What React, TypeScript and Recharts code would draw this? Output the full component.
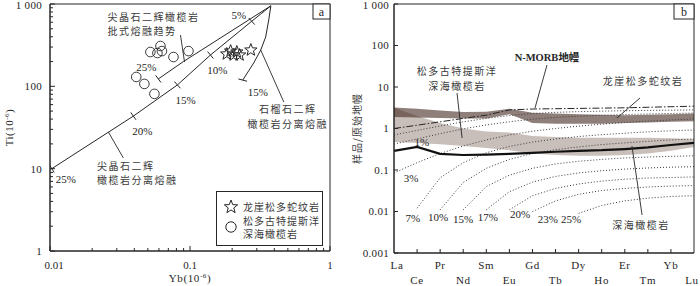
import React from 'react';
import {
  ComposedChart, ScatterChart, Scatter, Line, Area, XAxis, YAxis,
  ReferenceLine, ReferenceDot, ReferenceArea, Legend,
} from 'recharts';

const SERIF = '"Liberation Serif", "DejaVu Serif", serif';
const CJK = '"Noto Sans CJK SC", "Noto Sans CJK JP", sans-serif';
const INK = '#262626';
const CJK_INK = '#3a3a3a';

// ---------------- Panel a : Yb vs Ti ----------------
const spinelFractional = [
  { yb: 0.0103, ti: 10 }, { yb: 0.0394, ti: 43.5 }, { yb: 0.0813, ti: 104 },
  { yb: 0.14, ti: 240 }, { yb: 0.276, ti: 617 }, { yb: 0.378, ti: 950 },
];
const spinelBatch = [
  { yb: 0.0594, ti: 123 }, { yb: 0.0897, ti: 200 }, { yb: 0.378, ti: 950 },
];
const garnetFractional = [
  { yb: 0.378, ti: 950 }, { yb: 0.365, ti: 639 }, { yb: 0.347, ti: 397 },
  { yb: 0.32, ti: 276 }, { yb: 0.285, ti: 192 }, { yb: 0.238, ti: 119 },
];
const curveTicks = [
  { yb: 0.276, ti: 617, angle: 48 }, { yb: 0.14, ti: 240, angle: 50 },
  { yb: 0.0813, ti: 104, angle: 48 }, { yb: 0.0394, ti: 43.5, angle: 55 },
  { yb: 0.0103, ti: 10, angle: 57 }, { yb: 0.0594, ti: 123, angle: 53 },
  { yb: 0.238, ti: 119, angle: 15 },
];
const serpentinite = [
  { yb: 0.183, ti: 247 }, { yb: 0.195, ti: 268 }, { yb: 0.205, ti: 240 },
  { yb: 0.216, ti: 261 }, { yb: 0.226, ti: 240 }, { yb: 0.272, ti: 276 },
];
const tethysPeridotite = [
  { yb: 0.0521, ti: 261 }, { yb: 0.0585, ti: 254 }, { yb: 0.0615, ti: 309 },
  { yb: 0.063, ti: 268 }, { yb: 0.0762, ti: 227 }, { yb: 0.0975, ti: 268 },
  { yb: 0.0413, ti: 130 }, { yb: 0.0472, ti: 107 }, { yb: 0.0557, ti: 81 },
];
const xTicksA = [0.01, 0.02, 0.03, 0.04, 0.05, 0.06, 0.07, 0.08, 0.09, 0.1, 0.2, 0.3, 0.4, 0.5, 0.6, 0.7, 0.8, 0.9, 1];
const yTicksA = [1, 2, 3, 4, 5, 6, 7, 8, 9, 10, 20, 30, 40, 50, 60, 70, 80, 90, 100, 200, 300, 400, 500, 600, 700, 800, 900, 1000];
const xLabelsA: Record<string, string> = { '0.01': '0.01', '0.1': '0.1', '1': '1' };
const yLabelsA: Record<string, string> = { '1': '1', '10': '10', '100': '100', '1000': '1 000' };

// ---------------- Panel b : REE pattern ----------------
const ree = ['La', 'Ce', 'Pr', 'Nd', 'Sm', 'Eu', 'Gd', 'Tb', 'Dy', 'Ho', 'Er', 'Tm', 'Yb', 'Lu'];
const nmorbMantle = [1.0, 1.2, 1.45, 1.75, 2.1, 2.8, 2.95, 3.0, 3.05, 3.1, 3.15, 3.25, 3.35, 3.45];
const serpLow = [1.9, 1.85, 1.8, 1.75, 1.75, 2.2, 1.35, 1.3, 1.3, 1.3, 1.35, 1.4, 1.45, 1.5];
const serpHigh = [3.2, 3.0, 2.7, 2.5, 2.55, 3.0, 2.4, 2.3, 2.2, 2.15, 2.1, 2.15, 2.2, 2.3];
const abyssLow = [0.47, 0.45, 0.42, 0.38, 0.34, 0.3, 0.25, 0.23, 0.22, 0.22, 0.23, 0.25, 0.29, 0.36];
const abyssHigh = [3.2, 2.0, 1.35, 1.0, 0.85, 0.8, 0.66, 0.62, 0.6, 0.6, 0.6, 0.6, 0.58, 0.56];
const abyssalAvg = [0.29, 0.36, 0.245, 0.23, 0.235, 0.245, 0.26, 0.275, 0.29, 0.3, 0.32, 0.35, 0.4, 0.45];
const melt0 = [0.7, 0.9, 1.15, 1.45, 1.75, 2.05, 2.3, 2.45, 2.55, 2.62, 2.68, 2.73, 2.77, 2.8];
const melt1 = [0.42, 0.56, 0.75, 0.98, 1.22, 1.45, 1.68, 1.85, 1.98, 2.08, 2.17, 2.24, 2.3, 2.35];
const melt3 = [0.085, 0.15, 0.25, 0.38, 0.53, 0.7, 0.86, 1.0, 1.14, 1.27, 1.39, 1.5, 1.6, 1.7];
const melt7 = [null, 0.012, 0.065, 0.15, 0.26, 0.37, 0.47, 0.56, 0.64, 0.71, 0.77, 0.83, 0.88, 0.92];
const melt10 = [null, null, 0.011, 0.05, 0.11, 0.18, 0.25, 0.31, 0.36, 0.41, 0.45, 0.49, 0.53, 0.56];
const melt15 = [null, null, null, 0.011, 0.04, 0.075, 0.11, 0.14, 0.162, 0.18, 0.195, 0.205, 0.213, 0.22];
const melt17 = [null, null, null, null, 0.011, 0.03, 0.051, 0.07, 0.085, 0.096, 0.105, 0.112, 0.117, 0.12];
const melt20 = [null, null, null, null, null, 0.011, 0.024, 0.036, 0.046, 0.054, 0.06, 0.064, 0.066, 0.068];
const melt23 = [null, null, null, null, null, null, 0.01, 0.018, 0.026, 0.032, 0.036, 0.039, 0.041, 0.042];
const melt25 = [null, null, null, null, null, null, null, null, 0.009, 0.014, 0.018, 0.021, 0.023, 0.024];
const yTicksB = [0.001, 0.01, 0.1, 1, 10, 100, 1000];
const yLabelsB: Record<string, string> = { '0.001': '0.001', '0.01': '0.01', '0.1': '0.1', '1': '1', '10': '10', '100': '100', '1000': '1 000' };

const meltKeys = ['m0', 'm1', 'm3', 'm7', 'm10', 'm15', 'm17', 'm20', 'm23', 'm25'];
const meltSeries = [melt0, melt1, melt3, melt7, melt10, melt15, melt17, melt20, melt23, melt25];

const reeData = ree.map((el, i) => {
  const row: any = {
    el, i,
    nmorb: nmorbMantle[i],
    serp: [serpLow[i], serpHigh[i]],
    abyss: [abyssLow[i], abyssHigh[i]],
    avg: abyssalAvg[i],
  };
  meltKeys.forEach((k, j) => { row[k] = meltSeries[j][i]; });
  return row;
});

// ---------------- annotations ----------------
type Note = { x: number; y: number; text: string; anchor?: string; cjk?: boolean; bold?: boolean };
const notesA: Note[] = [
  { x: 0.0257, y: 690, text: '尖晶石二辉橄榄岩', anchor: 'start', cjk: true },
  { x: 0.0257, y: 460, text: '批式熔融趋势', anchor: 'start', cjk: true },
  { x: 0.0488, y: 171, text: '25%' },
  { x: 0.223, y: 735, text: '5%' },
  { x: 0.157, y: 158, text: '10%' },
  { x: 0.0929, y: 68, text: '15%' },
  { x: 0.0457, y: 28.6, text: '20%' },
  { x: 0.013, y: 7.48, text: '25%' },
  { x: 0.0217, y: 10.6, text: '尖晶石二辉', anchor: 'start', cjk: true },
  { x: 0.0217, y: 7.1, text: '橄榄岩分离熔融', anchor: 'start', cjk: true },
  { x: 0.305, y: 85, text: '15%' },
  { x: 0.5, y: 53, text: '石榴石二辉', cjk: true },
  { x: 0.5, y: 34, text: '橄榄岩分离熔融', cjk: true },
];
const leadersA = [
  [{ x: 0.0855, y: 420 }, { x: 0.0914, y: 197 }],
  [{ x: 0.0261, y: 27.9 }, { x: 0.0334, y: 13.5 }],
  [{ x: 0.32, y: 276 }, { x: 0.468, y: 64.4 }],
];
const notesB: Note[] = [
  { x: 2.73, y: 23.5, text: '松多古特提斯洋', cjk: true },
  { x: 2.73, y: 10.4, text: '深海橄榄岩', cjk: true },
  { x: 10.79, y: 13.2, text: '龙崖松多蛇纹岩', cjk: true },
  { x: 10.7, y: 0.00448, text: '深海橄榄岩', cjk: true },
  { x: 1.21, y: 0.473, text: '1%' },
  { x: 0.74, y: 0.064, text: '3%' },
  { x: 0.82, y: 0.00697, text: '7%' },
  { x: 1.91, y: 0.00736, text: '10%' },
  { x: 2.99, y: 0.0066, text: '15%' },
  { x: 4.07, y: 0.0074, text: '17%' },
  { x: 5.46, y: 0.0087, text: '20%' },
  { x: 6.67, y: 0.0066, text: '23%' },
  { x: 7.67, y: 0.0066, text: '25%' },
];
const leadersB = [
  [{ x: 6.63, y: 33.9 }, { x: 6.11, y: 3.12 }],
  [{ x: 2.73, y: 7.17 }, { x: 2.95, y: 0.59 }],
  [{ x: 10.66, y: 5.43 }, { x: 9.66, y: 1.79 }],
  [{ x: 10.31, y: 0.379 }, { x: 10.75, y: 0.00824 }],
];

// ---------------- shapes ----------------
const starPath = (cx: number, cy: number, R: number) => {
  const r = R * 0.42;
  let d = '';
  for (let k = 0; k < 10; k++) {
    const rad = k % 2 === 0 ? R : r;
    const a = -Math.PI / 2 + (k * Math.PI) / 5;
    d += (k ? 'L' : 'M') + (cx + rad * Math.cos(a)).toFixed(2) + ',' + (cy + rad * Math.sin(a)).toFixed(2);
  }
  return d + 'Z';
};
const NoShape = () => <g />;
const StarShape = (p: any) => <path d={starPath(p.cx, p.cy, 6.5)} fill="none" stroke={INK} strokeWidth={1} />;
const CircleShape = (p: any) => <circle cx={p.cx} cy={p.cy} r={4.8} fill="none" stroke={INK} strokeWidth={0.9} />;
const TickShape = (p: any) => {
  const a = (p.payload.angle * Math.PI) / 180;
  const dx = Math.cos(a) * 4.5, dy = Math.sin(a) * 4.5;
  return <line x1={p.cx - dx} y1={p.cy - dy} x2={p.cx + dx} y2={p.cy + dy} stroke={INK} strokeWidth={1} />;
};
const textShape = (t: Note) => (p: any) => (
  <text x={p.cx} y={p.cy} dy="0.35em" textAnchor={(t.anchor as any) || 'middle'}
    fontFamily={t.cjk ? CJK : SERIF} fontSize={t.cjk ? 10 : 11} letterSpacing={t.cjk ? 1.5 : 0}
    fill={t.cjk ? CJK_INK : INK} fontWeight={t.bold ? 700 : 400}>{t.text}</text>
);

const TickXA = (p: any) => {
  const v = p.payload.value;
  const lab = xLabelsA[String(v)];
  return (
    <g>
      <line x1={p.x} y1={p.y} x2={p.x} y2={p.y - (lab ? 5 : 3)} stroke={INK} />
      {lab && <text x={p.x + (v === 0.01 ? 4 : 0)} y={p.y + 18} textAnchor="middle" fontFamily={SERIF} fontSize={11} fill={INK}>{lab}</text>}
    </g>
  );
};
const TickYA = (p: any) => {
  const v = p.payload.value;
  const lab = yLabelsA[String(v)];
  return (
    <g>
      <line x1={p.x} y1={p.y} x2={p.x + (lab ? 5 : 3)} y2={p.y} stroke={INK} />
      {lab && <text x={p.x - 8} y={p.y + (v === 1000 ? 1.5 : 0)} dy="0.35em" textAnchor="end" fontFamily={SERIF} fontSize={11} fill={INK} letterSpacing={0.3}>{lab}</text>}
    </g>
  );
};
const TickXB = (p: any) => {
  const idx = ree.indexOf(p.payload.value);
  return (
    <g>
      {idx > 0 && idx < ree.length - 1 && <line x1={p.x} y1={p.y} x2={p.x} y2={p.y - 4} stroke={INK} />}
      <text x={p.x + (idx === 0 ? 3 : idx === ree.length - 1 ? -2 : 0)} y={p.y + (idx % 2 === 0 ? 16 : 31)} textAnchor="middle"
        fontFamily={SERIF} fontSize={11} letterSpacing={0.6} fill={INK}>{p.payload.value}</text>
    </g>
  );
};
const TickYB = (p: any) => {
  const v = p.payload.value;
  const lab = yLabelsB[String(v)];
  return (
    <g>
      <line x1={p.x} y1={p.y} x2={p.x + 4} y2={p.y} stroke={INK} />
      <text x={p.x - 5} y={p.y + (v === 1000 ? 1.5 : 0)} dy="0.35em" textAnchor="end" fontFamily={SERIF} fontSize={11} fill={INK} letterSpacing={0.3}>{lab}</text>
    </g>
  );
};

const LegendA = () => (
  <svg width={107} height={55} style={{ display: 'block' }}>
    <rect x={0.5} y={0.5} width={106} height={54} fill="#fff" stroke={INK} />
    <path d={starPath(15, 16, 7)} fill="none" stroke={INK} />
    <text x={27} y={16} dy="0.35em" fontFamily={CJK} fontSize={10} letterSpacing={1} fill={CJK_INK}>龙崖松多蛇纹岩</text>
    <circle cx={15} cy={36} r={5.2} fill="none" stroke={INK} />
    <text x={27} y={30} dy="0.35em" fontFamily={CJK} fontSize={10} letterSpacing={1} fill={CJK_INK}>松多古特提斯洋</text>
    <text x={27} y={43.5} dy="0.35em" fontFamily={CJK} fontSize={10} letterSpacing={1} fill={CJK_INK}>深海橄榄岩</text>
  </svg>
);

function PanelA() {
  return (
    <ScatterChart width={345} height={286} margin={{ top: 4, right: 15, bottom: 0, left: 0 }}>
      <XAxis type="number" dataKey="yb" scale="log" domain={[0.01, 1]} ticks={xTicksA} interval={0}
        tick={TickXA} tickLine={false} tickSize={0} tickMargin={0} height={35} allowDataOverflow
        axisLine={{ stroke: INK }}
        label={(lp: any) => {
          const vb = lp.viewBox || { x: 50, y: 251, width: 280 };
          return (
            <text x={vb.x + vb.width / 2} y={282} textAnchor="middle" fontFamily={SERIF} fontSize={11} fill={INK} letterSpacing={0.6}>
              Yb(10<tspan dy={-4} fontSize={7}>-6</tspan><tspan dy={4}>)</tspan>
            </text>
          );
        }} />
      <YAxis type="number" dataKey="ti" scale="log" domain={[1, 1000]} ticks={yTicksA} interval={0}
        tick={TickYA} tickLine={false} tickSize={0} tickMargin={0} width={50} allowDataOverflow
        axisLine={{ stroke: INK }}
        label={(lp: any) => {
          const vb = lp.viewBox || { x: 0, y: 4, height: 247 };
          const cy = vb.y + vb.height / 2;
          return (
            <text x={9} y={cy} transform={`rotate(-90 9 ${cy})`} textAnchor="middle" dy="0.35em" fontFamily={SERIF} fontSize={11} fill={INK} letterSpacing={0.5}>
              Ti(10<tspan dy={-4} fontSize={7}>-6</tspan><tspan dy={4}>)</tspan>
            </text>
          );
        }} />
      <ReferenceArea x1={0.01} x2={1} y1={1} y2={1000} fill="none" stroke={INK} strokeWidth={1} ifOverflow="visible" />
      <Scatter data={spinelFractional} line={{ stroke: INK, strokeWidth: 1 }} shape={NoShape} isAnimationActive={false} />
      <Scatter data={spinelBatch} line={{ stroke: INK, strokeWidth: 1 }} shape={NoShape} isAnimationActive={false} />
      <Scatter data={garnetFractional} line={{ stroke: INK, strokeWidth: 1 }} shape={NoShape} isAnimationActive={false} />
      <Scatter data={curveTicks} shape={TickShape} isAnimationActive={false} />
      <Scatter data={tethysPeridotite} shape={CircleShape} isAnimationActive={false} />
      <Scatter data={serpentinite} shape={StarShape} isAnimationActive={false} />
      {leadersA.map((s, k) => (
        <ReferenceLine key={'la' + k} segment={s} stroke={INK} strokeWidth={0.9} ifOverflow="visible" />
      ))}
      {notesA.map((t, k) => (
        <ReferenceDot key={'na' + k} x={t.x} y={t.y} r={0} ifOverflow="visible" shape={textShape(t)} />
      ))}
      <ReferenceDot x={1} y={1000} r={0} ifOverflow="visible" shape={(p: any) => (
        <g>
          <rect x={p.cx - 17} y={p.cy} width={17} height={15} fill="#fff" stroke={INK} />
          <text x={p.cx - 8.5} y={p.cy + 11.5} textAnchor="middle" fontFamily={SERIF} fontSize={12} fill={INK}>a</text>
        </g>
      )} />
      <Legend content={LegendA} layout="horizontal" verticalAlign="middle" align="center"
        wrapperStyle={{ left: 216, top: 191, width: 107, height: 55 }} />
    </ScatterChart>
  );
}

function PanelB() {
  const dotted = { stroke: '#3a3a3a', strokeWidth: 1, strokeDasharray: '1 2' };
  return (
    <ComposedChart width={350} height={286} data={reeData} margin={{ top: 4, right: 6, bottom: 0, left: 0 }}>
      <XAxis dataKey="el" type="category" scale="point" padding={{ left: 0, right: 0 }} interval={0}
        tick={TickXB} tickLine={false} tickSize={0} tickMargin={0} height={33} axisLine={{ stroke: INK }} />
      <XAxis xAxisId="n" dataKey="i" type="number" domain={[0, 13]} hide allowDataOverflow />
      <YAxis type="number" scale="log" domain={[0.001, 1000]} ticks={yTicksB} interval={0}
        tick={TickYB} tickLine={false} tickSize={0} tickMargin={0} width={44} allowDataOverflow
        axisLine={{ stroke: INK }}
        label={(lp: any) => {
          const vb = lp.viewBox || { x: 0, y: 4, height: 249 };
          const cy = vb.y + vb.height / 2;
          return (
            <text x={7} y={cy} transform={`rotate(-90 7 ${cy})`} textAnchor="middle" dy="0.35em" fontFamily={CJK} fontSize={10} letterSpacing={1} fill={CJK_INK}>
              样品/原始地幔
            </text>
          );
        }} />
      <Area dataKey="abyss" stroke="none" fill="#c9bfba" fillOpacity={1} dot={false} activeDot={false} isAnimationActive={false} />
      <Area dataKey="serp" stroke="none" fill="rgb(62,35,25)" fillOpacity={0.58} dot={false} activeDot={false} isAnimationActive={false} />
      {meltKeys.map((k) => (
        <Line key={k} dataKey={k} {...dotted} dot={false} activeDot={false} connectNulls={false} isAnimationActive={false} />
      ))}
      <Line dataKey="nmorb" stroke={INK} strokeWidth={1} strokeDasharray="7 2 1.5 2" dot={false} activeDot={false} isAnimationActive={false} />
      <Line dataKey="avg" stroke="#111" strokeWidth={2.2} dot={false} activeDot={false} isAnimationActive={false} />
      <ReferenceArea xAxisId="n" x1={0} x2={13} y1={0.001} y2={1000} fill="none" stroke={INK} strokeWidth={1} ifOverflow="visible" />
      {leadersB.map((s, k) => (
        <ReferenceLine key={'lb' + k} xAxisId="n" segment={s} stroke={INK} strokeWidth={0.9} ifOverflow="visible" />
      ))}
      {notesB.map((t, k) => (
        <ReferenceDot key={'nb' + k} xAxisId="n" x={t.x} y={t.y} r={0} ifOverflow="visible" shape={textShape(t)} />
      ))}
      <ReferenceDot xAxisId="n" x={6.63} y={52.8} r={0} ifOverflow="visible" shape={(p: any) => (
        <text x={p.cx} y={p.cy} dy="0.35em" textAnchor="middle" fill={INK} fontWeight={700} fontSize={10.5}>
          <tspan fontFamily={SERIF}>N-MORB</tspan><tspan fontFamily={CJK}>地幔</tspan>
        </text>
      )} />
      <ReferenceDot xAxisId="n" x={13} y={1000} r={0} ifOverflow="visible" shape={(p: any) => (
        <g>
          <rect x={p.cx - 20} y={p.cy} width={20} height={15} fill="#fff" stroke={INK} />
          <text x={p.cx - 10} y={p.cy + 11.5} textAnchor="middle" fontFamily={SERIF} fontSize={12} fill={INK}>b</text>
        </g>
      )} />
    </ComposedChart>
  );
}

export default function App() {
  return (
    <div style={{ position: 'absolute', left: 0, top: 0, width: 700, height: 286, background: '#fff', overflow: 'hidden' }}>
      <div style={{ position: 'absolute', left: 0, top: 0 }}><PanelA /></div>
      <div style={{ position: 'absolute', left: 350, top: 0 }}><PanelB /></div>
    </div>
  );
}
